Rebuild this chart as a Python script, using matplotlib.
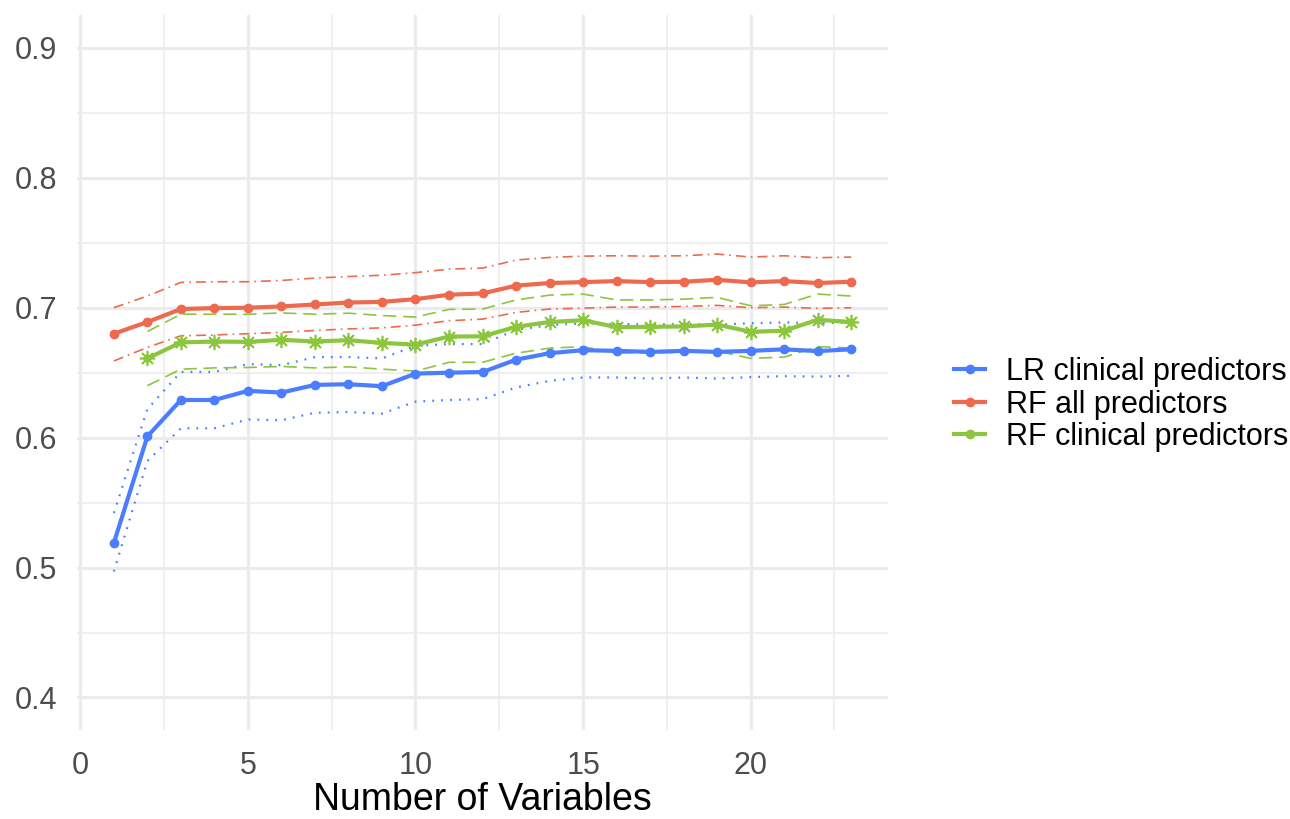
import numpy as np
import matplotlib
matplotlib.use("Agg")
from matplotlib import pyplot as plt
from matplotlib.lines import Line2D

plt.rcParams['font.family'] = ['Liberation Sans', 'DejaVu Sans']

# number of variables
n_vars = list(range(1, 24))
n_vars_rf_clin = list(range(2, 24))

# LR clinical predictors: mean and bounds
lr_mean = [0.519, 0.601, 0.629, 0.629, 0.636, 0.6347, 0.6406, 0.6411, 0.6396, 0.6493, 0.650, 0.6505,
           0.660, 0.665, 0.6673, 0.6668, 0.666, 0.6668, 0.666, 0.6668, 0.668, 0.6666, 0.668]
lr_upper = [0.542, 0.622, 0.6506, 0.6506, 0.6566, 0.6558, 0.662, 0.662, 0.661, 0.6707, 0.672, 0.672,
            0.683, 0.6866, 0.688, 0.6875, 0.687, 0.6875, 0.687, 0.688, 0.6887, 0.688, 0.6887]
lr_lower = [0.497, 0.582, 0.6072, 0.6072, 0.614, 0.6134, 0.6192, 0.6197, 0.6185, 0.6277, 0.629, 0.6296,
            0.6386, 0.6437, 0.6463, 0.6463, 0.6455, 0.6463, 0.6455, 0.6466, 0.6473, 0.647, 0.6476]

# RF all predictors
rf_all_mean = [0.680, 0.689, 0.699, 0.6997, 0.700, 0.701, 0.7025, 0.704, 0.7045, 0.7066, 0.710, 0.711,
               0.717, 0.719, 0.7197, 0.7205, 0.7197, 0.720, 0.7215, 0.7195, 0.7205, 0.719, 0.720]
rf_all_upper = [0.700, 0.709, 0.7195, 0.720, 0.720, 0.721, 0.7228, 0.724, 0.725, 0.727, 0.7297, 0.7305,
                0.7367, 0.7387, 0.7397, 0.740, 0.7397, 0.740, 0.7413, 0.739, 0.740, 0.7385, 0.739]
rf_all_lower = [0.659, 0.6695, 0.6784, 0.679, 0.680, 0.681, 0.6825, 0.6837, 0.6845, 0.6866, 0.690, 0.6912,
                0.6964, 0.699, 0.6997, 0.7005, 0.7005, 0.701, 0.7018, 0.700, 0.7005, 0.6995, 0.700]

# RF clinical predictors (starts at 2 variables)
rf_clin_mean = [0.661, 0.6733, 0.674, 0.6737, 0.6753, 0.674, 0.675, 0.6729, 0.6716, 0.6778, 0.678,
                0.6853, 0.689, 0.6904, 0.685, 0.6853, 0.6856, 0.687, 0.6815, 0.6823, 0.6907, 0.689]
rf_clin_upper = [0.6817, 0.695, 0.695, 0.695, 0.696, 0.695, 0.6958, 0.694, 0.6928, 0.6987, 0.699,
                 0.706, 0.7097, 0.7105, 0.706, 0.706, 0.7066, 0.708, 0.7015, 0.7025, 0.7105, 0.709]
rf_clin_lower = [0.640, 0.6527, 0.6537, 0.654, 0.6548, 0.6537, 0.6545, 0.6527, 0.6512, 0.658, 0.658,
                 0.665, 0.6689, 0.670, 0.665, 0.6655, 0.6655, 0.6667, 0.661, 0.662, 0.670, 0.669]

labels = ["LR clinical predictors", "RF all predictors", "RF clinical predictors"]
BLUE = "#4A7DFF"
RED = "#EE6A4E"
GREEN = "#8CC63E"
GRID = "#EBEBEB"

fig = plt.figure(figsize=(12.9, 8.19), dpi=100)
ax = fig.add_axes([0.0597, 0.1087, 0.6287, 0.8725])

# theme_minimal-ish grid
for v in [2.5, 7.5, 12.5, 17.5, 22.5]:
    ax.axvline(v, color=GRID, lw=1.1, zorder=0)
for v in [0.45, 0.55, 0.65, 0.75, 0.85]:
    ax.axhline(v, color=GRID, lw=1.1, zorder=0)
for v in [0, 5, 10, 15, 20]:
    ax.axvline(v, color=GRID, lw=2.2, zorder=0)
for v in [0.4, 0.5, 0.6, 0.7, 0.8, 0.9]:
    ax.axhline(v, color=GRID, lw=2.2, zorder=0)

# LR clinical
ax.plot(n_vars, lr_mean, color=BLUE, lw=3.0, marker='o', ms=6, zorder=3)
ax.plot(n_vars, lr_upper, color=BLUE, lw=1.6, ls=(0, (0.8, 3.2)), zorder=2)
ax.plot(n_vars, lr_lower, color=BLUE, lw=1.6, ls=(0, (0.8, 3.2)), zorder=2)

# RF all
ax.plot(n_vars, rf_all_mean, color=RED, lw=3.0, marker='o', ms=6, zorder=3)
ax.plot(n_vars, rf_all_upper, color=RED, lw=1.2, ls=(0, (6, 3, 1, 3)), zorder=2)
ax.plot(n_vars, rf_all_lower, color=RED, lw=1.2, ls=(0, (6, 3, 1, 3)), zorder=2)

# RF clinical
ax.plot(n_vars_rf_clin, rf_clin_mean, color=GREEN, lw=3.0, marker='o', ms=5, zorder=4)
ax.plot(n_vars_rf_clin, rf_clin_mean, color=GREEN, lw=0, marker=(8, 2, 0), ms=11, mew=1.2, zorder=4)
ax.plot(n_vars_rf_clin, rf_clin_upper, color=GREEN, lw=1.2, ls=(0, (8, 4)), zorder=2)
ax.plot(n_vars_rf_clin, rf_clin_lower, color=GREEN, lw=1.2, ls=(0, (8, 4)), zorder=2)

ax.set_xlim(-0.1, 24.1)
ax.set_ylim(0.375, 0.925)
ax.set_xticks([0, 5, 10, 15, 20])
ax.set_yticks([0.4, 0.5, 0.6, 0.7, 0.8, 0.9])
ax.set_yticklabels(["0.4", "0.5", "0.6", "0.7", "0.8", "0.9"])
ax.tick_params(length=0, labelsize=22, labelcolor="#4D4D4D", pad=15)
ax.tick_params(axis='y', pad=14.5)
for s in ax.spines.values():
    s.set_visible(False)
ax.set_xlabel("Number of Variables", fontsize=27, color="black", labelpad=1)

handles = [Line2D([], [], color=c, lw=3.0, marker='o', ms=6) for c in (BLUE, RED, GREEN)]
fig.legend(handles, labels, loc='center left', bbox_to_anchor=(0.728, 0.506), frameon=False,
           fontsize=22, handlelength=1.0, handletextpad=0.7, labelspacing=0.08, borderpad=0)

fig.savefig("out.png", dpi=100)
